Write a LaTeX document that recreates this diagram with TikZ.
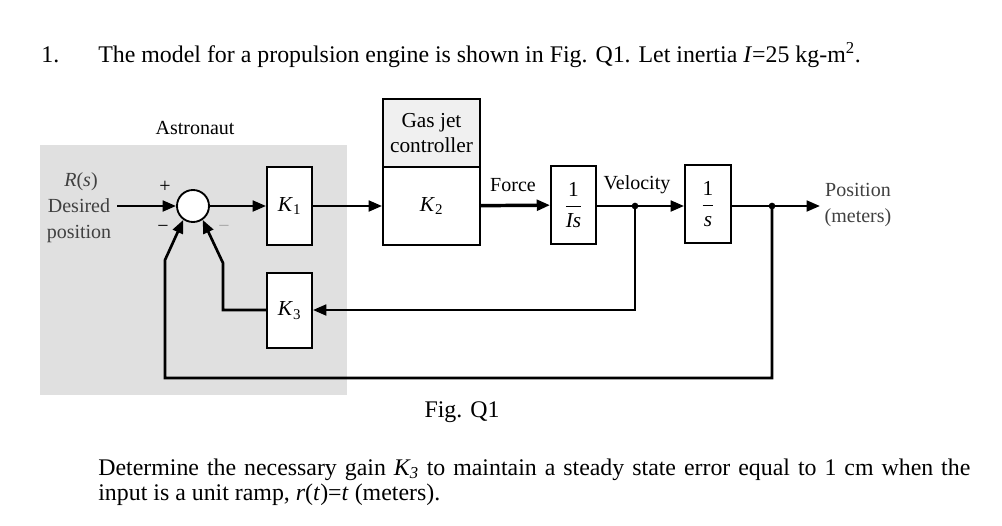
\documentclass[tikz,border=0pt]{standalone}
\usepackage{fontspec}
\setmainfont{Liberation Serif}
\usetikzlibrary{arrows.meta}
\newcommand{\fr}[2]{$\displaystyle\frac{\mbox{#1}}{\mbox{#2}}$}
\begin{document}
\begin{tikzpicture}[x=0.75pt,y=-0.75pt,
  line width=2pt,
  arr/.style={-{Triangle[length=10pt,width=8pt]}},
  blk/.style={draw,line width=1.4pt,fill=white,inner sep=0pt,font=\fontsize{16}{19}\selectfont},
  lbl/.style={inner sep=0pt,font=\fontsize{15}{17}\selectfont},
  glbl/.style={lbl,text=black!75},
  dot/.style={circle,fill=black,inner sep=0pt,minimum size=5pt},
  big/.style={inner sep=0pt,font=\fontsize{17.9}{20}\selectfont}]
\useasboundingbox (0,0) rectangle (1002,525);
% shaded background
\fill[black!12] (40,145) rectangle (347,395);
% texts
\node[big,anchor=base west] (n1) at (40,62) {1.};
\node[big,anchor=base west] (t1) at (97,62) {The model for a propulsion engine is shown in Fig. Q1. Let inertia \textit{I}=25 kg-m\textsuperscript{2}.};
\node[big] (fig) at (462,412) {Fig. Q1};
\node[big,anchor=base west] (b1) at (97,475) {\makebox[654pt][s]{Determine the necessary gain \textit{K\textsubscript{3}} to maintain a steady state error equal to 1 cm when the}};
\node[big,anchor=base west] (b2) at (97,500) {input is a unit ramp, \textit{r}(\textit{t})=\textit{t} (meters).};
% blocks
\node[circle,draw,line width=1.4pt,fill=white,minimum size=24pt,inner sep=0pt] (sum) at (193,206) {};
\node[blk,minimum width=33.75pt,minimum height=58.5pt] (k1) at (289.5,206) {\textit{K}\textsubscript{1}};
\node[blk,minimum width=33.75pt,minimum height=56pt] (k3) at (289.5,310.5) {\textit{K}\textsubscript{3}};
\node[blk,fill=black!6,minimum width=72.75pt,minimum height=51pt,align=center] (gas) at (431.5,133) {Gas jet\\controller};
\node[blk,minimum width=72.75pt,minimum height=58.5pt] (k2) at (431.5,206) {\textit{K}\textsubscript{2}};
\node[blk,minimum width=33.75pt,minimum height=58.5pt] (is) at (573.5,205) {\fr{1}{\textit{Is}}};
\node[blk,minimum width=34.5pt,minimum height=58.5pt] (s) at (708,204) {\fr{1}{\textit{s}}};
% coordinates
\coordinate (in) at (117,206);
\node[dot] (j1) at (635,206) {};
\node[dot] (j2) at (772,206) {};
\coordinate (out) at (820,206);
\coordinate (f1) at (635,310);
\coordinate (f2) at (223,310);
\coordinate (f3) at (223,263);
\coordinate (g1) at (772,378);
\coordinate (g2) at (165,378);
\coordinate (g3) at (165,260);
% connectors
\draw[arr] (in) -- (sum);
\draw[arr] (sum) -- (k1);
\draw[arr] (k1) -- (k2);
\draw[arr,line width=2.6pt] (k2) -- (is);
\draw (is.east |- j1) -- (j1.center);
\draw[arr] (j1.center) -- (s.west |- j1);
\draw (s.east |- j2) -- (j2.center);
\draw[arr] (j2.center) -- (out);
\draw[arr] (j1.center) -- (f1) -- (k3.east |- f1);
\draw[arr] (k3.west |- f2) -- (f2) -- (f3) -- (sum.-55);
\draw[arr] (j2.center) -- (g1) -- (g2) -- (g3) -- (sum.-125);
% labels
\node[lbl] (ast) at (195,128) {Astronaut};
\node[glbl] (rs) at (81,182) {\textit{R}(\textit{s})};
\node[glbl] (des) at (79,206) {Desired};
\node[glbl] (pos) at (79,234) {position};
\node[lbl] (plus) at (165,187) {+};
\node[lbl] (m1) at (163,229) {\textminus};
\node[lbl,text=black!35] (m2) at (224,229) {\textminus};
\node[lbl] (frc) at (513,185) {Force};
\node[lbl] (vel) at (637,185) {Velocity};
\node[glbl] (po) at (858,190) {Position};
\node[glbl] (me) at (858,218) {(meters)};
\end{tikzpicture}
\end{document}
